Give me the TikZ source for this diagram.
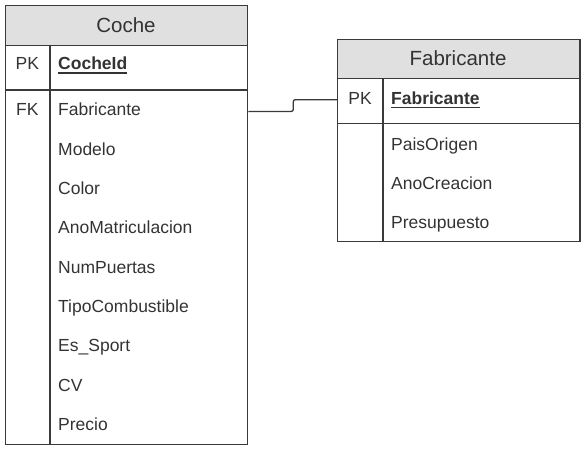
\documentclass[tikz,border=0pt]{standalone}
\usepackage{fontspec}
\setmainfont{Liberation Sans}
\usetikzlibrary{positioning}
\definecolor{linegray}{HTML}{3A3A3A}
\definecolor{headgray}{HTML}{E0E0E0}
\definecolor{textgray}{HTML}{333333}
\tikzset{
  tbl/.style={draw=linegray, line width=1.3pt, inner sep=0pt, anchor=north west},
  sep/.style={draw=linegray, line width=1.3pt},
  title/.style={font=\fontsize{20.5}{24}\selectfont, text=textgray},
  keycol/.style={font=\fontsize{17.5}{21}\selectfont, text=textgray, text height=12.5pt, text depth=3.5pt},
  fld/.style={keycol, anchor=west, inner xsep=8pt},
  uline/.style={draw=textgray, line width=1.2pt},
  link/.style={draw=linegray, line width=1.3pt, rounded corners=2pt},
}
\begin{document}
\begin{tikzpicture}[x=1pt,y=-1pt]
\useasboundingbox (0,0) rectangle (586,450);
% Coche
\node[tbl, fill=headgray, minimum width=242.5pt, minimum height=39.5pt] (cocheHead) at (4.5,5) {};
\node[tbl, minimum width=242.5pt, minimum height=399.5pt] (cocheBox) at (4.5,44.5) {};
\draw[sep] (4.5,90) -- (247,90);
\draw[sep] (50,44.5) -- (50,444);
\node[title] (cocheT) at (126,25) {Coche};
\node[keycol] (cochePk) at (27.3,65.4) {PK};
\node[fld] (cocheId) at (50,65.4) {\textbf{CocheId}};
\draw[uline] ([xshift=8pt,yshift=-3pt]cocheId.base west) -- ([xshift=-8pt,yshift=-3pt]cocheId.base east);
\node[keycol] (cocheFk) at (27.3,111.4) {FK};
\foreach \f [count=\i] in {Fabricante,Modelo,Color,AnoMatriculacion,NumPuertas,TipoCombustible,Es\_Sport,CV,Precio}
  \node[fld] (coche\i) at (50,{111.4+39.3*(\i-1)}) {\f};
% Fabricante
\node[tbl, fill=headgray, minimum width=242.3pt, minimum height=39pt] (fabHead) at (337,39) {};
\node[tbl, minimum width=242.3pt, minimum height=163pt] (fabBox) at (337,78) {};
\draw[sep] (337,123.3) -- (579.3,123.3);
\draw[sep] (383,78) -- (383,241);
\node[title] (fabT) at (458,58.5) {Fabricante};
\node[keycol] (fabPk) at (360,99.7) {PK};
\node[fld] (fabId) at (383,99.7) {\textbf{Fabricante}};
\draw[uline] ([xshift=8pt,yshift=-3.5pt]fabId.base west) -- ([xshift=-8pt,yshift=-3.5pt]fabId.base east);
\foreach \f [count=\i] in {PaisOrigen,AnoCreacion,Presupuesto}
  \node[fld] (fab\i) at (383,{145.7+39.3*(\i-1)}) {\f};
% relation
\draw[link] (cocheBox.east |- coche1) -- ++(45,0) |- (fabBox.west |- fabId);
\end{tikzpicture}
\end{document}
